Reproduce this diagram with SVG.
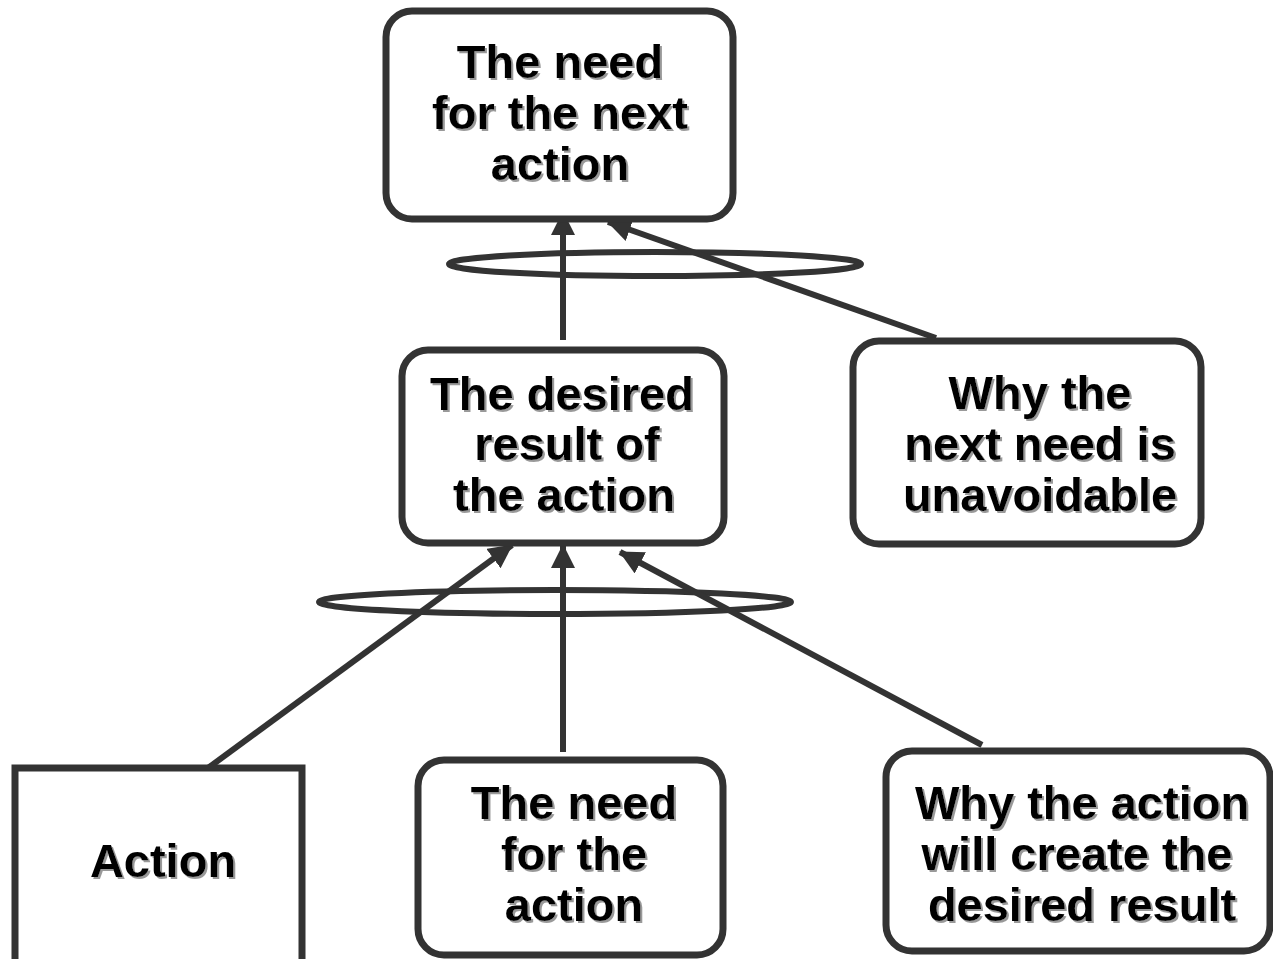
<svg xmlns="http://www.w3.org/2000/svg" width="1273" height="959" viewBox="0 0 1273 959">
<style>
.box{fill:#fff;stroke:#333;stroke-width:7}
.ell{fill:none;stroke:#333;stroke-width:6}
.con{stroke:#333;stroke-width:6;fill:none}
.lbl{font-family:"Liberation Sans",Arial,sans-serif;font-weight:bold;font-size:47px;fill:#000;text-anchor:middle;filter:url(#sh)}
</style>
<defs>
<filter id="sh" x="-10%" y="-20%" width="130%" height="150%">
<feDropShadow dx="2" dy="2" stdDeviation="0.6" flood-color="#999" flood-opacity="1"/>
</filter>
<marker id="ah" viewBox="0 0 24 24" refX="23" refY="12" markerWidth="24" markerHeight="24" markerUnits="userSpaceOnUse" orient="auto">
<path d="M0,0 L24,12 L0,24 Z" fill="#333"/>
</marker>
</defs>
<g id="ellipses">
<ellipse class="ell" cx="655" cy="264" rx="206" ry="12"/>
<ellipse class="ell" cx="555" cy="602" rx="236" ry="12"/>
</g>
<g id="connectors">
<line class="con" x1="563" y1="340" x2="563" y2="212" marker-end="url(#ah)"/>
<line class="con" x1="936" y1="338" x2="608" y2="222" marker-end="url(#ah)"/>
<line class="con" x1="208" y1="768" x2="512" y2="545" marker-end="url(#ah)"/>
<line class="con" x1="563" y1="752" x2="563" y2="545" marker-end="url(#ah)"/>
<line class="con" x1="982" y1="745" x2="620" y2="552" marker-end="url(#ah)"/>
</g>
<g id="n-next-need">
<rect class="box" x="386" y="11" width="347" height="208" rx="26"/>
<text class="lbl" x="560" y="78">The need</text>
<text class="lbl" x="560" y="129">for the next</text>
<text class="lbl" x="560" y="180">action</text>
</g>
<g id="n-desired-result">
<rect class="box" x="402" y="350" width="322" height="193" rx="26"/>
<text class="lbl" x="562" y="410">The desired</text>
<text class="lbl" x="567" y="460">result of</text>
<text class="lbl" x="564" y="511">the action</text>
</g>
<g id="n-why-next">
<rect class="box" x="853" y="341" width="348" height="203" rx="26"/>
<text class="lbl" x="1040" y="409">Why the</text>
<text class="lbl" x="1040" y="460">next need is</text>
<text class="lbl" x="1040" y="511">unavoidable</text>
</g>
<g id="n-action">
<rect class="box" x="15" y="768" width="287" height="200"/>
<text class="lbl" x="163" y="877">Action</text>
</g>
<g id="n-need-action">
<rect class="box" x="418" y="760" width="305" height="195" rx="26"/>
<text class="lbl" x="574" y="819">The need</text>
<text class="lbl" x="574" y="870">for the</text>
<text class="lbl" x="574" y="921">action</text>
</g>
<g id="n-why-action">
<rect class="box" x="886" y="751" width="384" height="200" rx="26"/>
<text class="lbl" x="1082" y="819">Why the action</text>
<text class="lbl" x="1077" y="870">will create the</text>
<text class="lbl" x="1082" y="921">desired result</text>
</g>
</svg>
